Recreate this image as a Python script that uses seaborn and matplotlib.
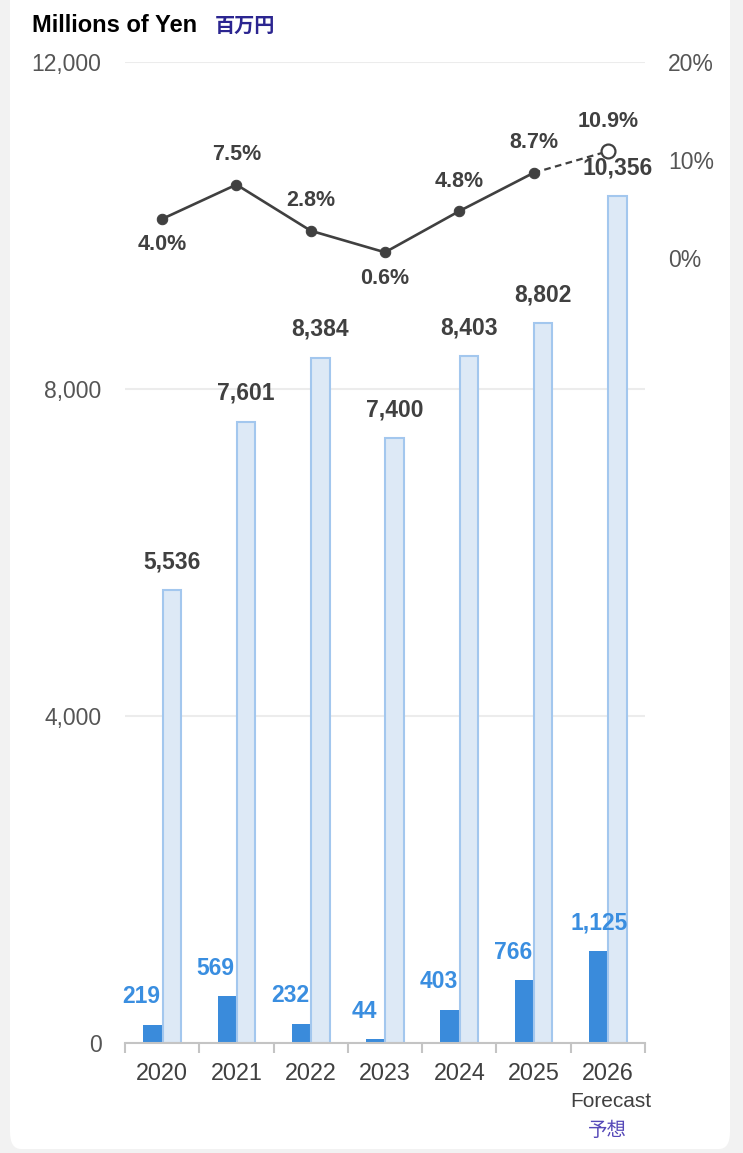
import numpy as np
import pandas as pd
import matplotlib
matplotlib.use("Agg")
import matplotlib.pyplot as plt
from matplotlib.patches import FancyBboxPatch
import seaborn as sns

# chart values
years = ["2020", "2021", "2022", "2023", "2024", "2025", "2026"]
profit = [219, 569, 232, 44, 403, 766, 1125]          # dark bars
sales = [5536, 7601, 8384, 7400, 8403, 8802, 10356]   # light bars
margin = [4.0, 7.5, 2.8, 0.6, 4.8, 8.7, 10.9]         # line, %
margin_above = [False, True, True, False, True, True, True]

DARK = "#3a8bdb"
LIGHT = "#dde9f6"
LIGHT_EDGE = "#a3c7ee"
TXT = "#404040"
NAVY = "#2b2590"

sns.set_theme(style="white")
plt.rcParams["font.family"] = ["Liberation Sans", "Noto Sans CJK JP", "DejaVu Sans"]
LBL = ["Liberation Sans Narrow", "Liberation Sans", "DejaVu Sans"]

df = pd.DataFrame({
    "year": years * 2,
    "value": profit + sales,
    "series": ["profit"] * len(years) + ["sales"] * len(years),
})

fig = plt.figure(figsize=(7.43, 11.53), dpi=100)
fig.patch.set_facecolor("#f2f2f2")
card = FancyBboxPatch((10 / 743, 4 / 1153), 720 / 743, 1.1, boxstyle="round,pad=0,rounding_size=0.015",
                      transform=fig.transFigure, facecolor="white", edgecolor="none", zorder=-10)
fig.patches.append(card)

ax = fig.add_axes([125 / 743, 1 - 1043 / 1153, 520 / 743, 981 / 1153])
ax.set_facecolor("none")
sns.barplot(data=df, x="year", y="value", hue="series", palette=[DARK, LIGHT], saturation=1,
            width=0.52, gap=0.05, legend=False, ax=ax, zorder=3)
for bar in ax.containers[1]:
    bar.set_edgecolor(LIGHT_EDGE)
    bar.set_linewidth(1.5)
for bar in ax.containers[0]:
    bar.set_edgecolor("none")

ax.set_ylim(0, 12000)
ax.set_xlim(-0.5, len(years) - 0.5)
ax.set_yticks([0, 4000, 8000, 12000])
ax.set_yticklabels(["0", "4,000", "8,000", "12,000"])
ax.grid(axis="y", color="#ececec", linewidth=1.5, zorder=0)
ax.set_xlabel("")
ax.set_ylabel("")
for s in ["top", "right", "left"]:
    ax.spines[s].set_visible(False)
ax.spines["bottom"].set_color("#c4c4c4")
ax.spines["bottom"].set_linewidth(1.5)
ax.spines["bottom"].set_zorder(4)
ax.tick_params(axis="y", length=0, pad=17, labelsize=16.5, labelcolor="#555555")
ax.tick_params(axis="x", which="major", length=0, pad=14, labelsize=16.8, labelcolor=TXT)
ax.set_xticks(np.arange(-0.5, len(years)), minor=True)
ax.tick_params(axis="x", which="minor", bottom=True, length=7, width=1.5, color="#c4c4c4")

# bar labels
for i, v in enumerate(sales):
    ax.annotate(f"{v:,}", (ax.containers[1][i].get_x() + ax.containers[1][i].get_width() / 2, v),
                xytext=(0, 12), textcoords="offset points", ha="center", va="bottom",
                fontsize=16.5, fontweight="bold", color=TXT, family=LBL)
for i, v in enumerate(profit):
    dx = 1 if i == len(years) - 1 else -8
    ax.annotate(f"{v:,}", (ax.containers[0][i].get_x() + ax.containers[0][i].get_width() / 2, v),
                xytext=(dx, 12), textcoords="offset points", ha="center", va="bottom",
                fontsize=16.5, fontweight="bold", color="#3a8ee0", family=LBL)

# forecast caption under 2026
ax.annotate("Forecast", (len(years) - 1, 0), xycoords=ax.get_xaxis_transform(),
            xytext=(2, -42), textcoords="offset points", ha="center", va="center",
            fontsize=15, color=TXT)
ax.annotate("予想", (len(years) - 1, 0), xycoords=ax.get_xaxis_transform(),
            xytext=(0, -63), textcoords="offset points", ha="center", va="center",
            fontsize=14, color="#5548b8", family=["Noto Sans CJK JP"])

# margin line on right axis
ax2 = ax.twinx()
ax2.set_ylim(-80, 20)
ax2.set_yticks([0, 10, 20])
ax2.set_yticklabels(["0%", "10%", "20%"])
for s in ax2.spines.values():
    s.set_visible(False)
ax2.tick_params(axis="y", length=0, pad=16.5, labelsize=16.5, labelcolor="#555555")
ax2.grid(False)

xpos = np.arange(len(years))
sns.lineplot(x=xpos[:-1], y=margin[:-1], ax=ax2, color=TXT, linewidth=1.9,
             marker="o", markersize=7.5, markeredgecolor=TXT, zorder=5)
ax2.plot(xpos[-2:], margin[-2:], color=TXT, linewidth=1.6, linestyle=(0, (3, 2)), zorder=5)
ax2.plot(xpos[-1:], margin[-1:], marker="o", markersize=10, markerfacecolor="white",
         markeredgecolor=TXT, markeredgewidth=1.6, linestyle="none", zorder=6)
for i, (m, up) in enumerate(zip(margin, margin_above)):
    ax2.annotate(f"{m:.1f}%", (i, m), xytext=(0, 14 if up else -11), textcoords="offset points",
                 ha="center", va="bottom" if up else "top",
                 fontsize=15.5, fontweight="bold", color=TXT, family=LBL)

# unit title
fig.text(32 / 743, 1 - 25 / 1153, "Millions of Yen", fontsize=17, fontweight="bold",
         color="black", va="center", ha="left")
fig.text(215 / 743, 1 - 25 / 1153, "百万円", fontsize=14.5, fontweight="bold",
         color=NAVY, va="center", ha="left", family=["Noto Sans CJK JP"])

fig.savefig("out.png", dpi=100, facecolor=fig.get_facecolor())
